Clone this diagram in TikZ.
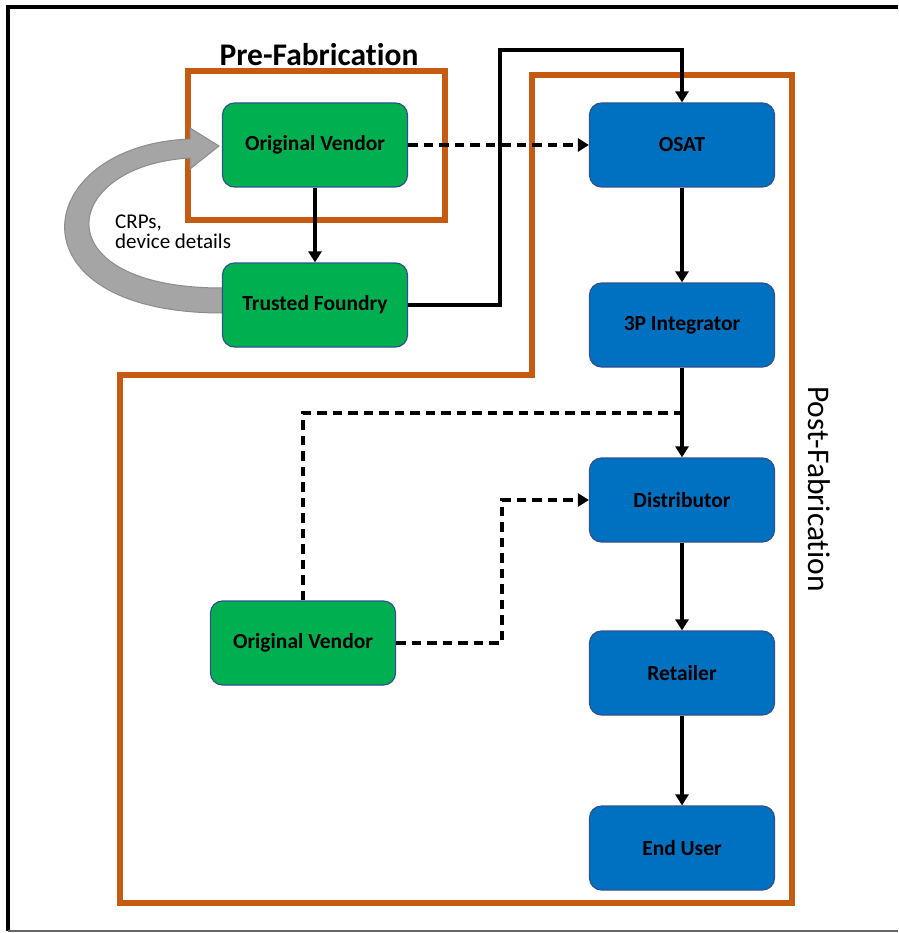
\documentclass[tikz,border=0pt]{standalone}
\usepackage{fontspec}
\setmainfont{Carlito}[Ligatures=NoCommon]
\usetikzlibrary{arrows.meta}

\definecolor{vgreen}{HTML}{00B050}
\definecolor{vblue}{HTML}{0070C0}
\definecolor{rust}{HTML}{C55A11}
\definecolor{boxedge}{HTML}{2F528F}
\definecolor{loopfill}{HTML}{A5A5A5}
\definecolor{loopedge}{HTML}{8C8C8C}

\tikzset{
  box/.style={rounded corners=12pt, minimum width=185pt, minimum height=84pt,
    draw=boxedge, line width=1.2pt, text=black,
    font=\fontsize{21.5}{24}\selectfont\bfseries},
  gbox/.style={box, fill=vgreen},
  bbox/.style={box, fill=vblue},
  flow/.style={line width=3.6pt, -{Triangle[length=11pt,width=13pt]}},
  dline/.style={line width=3.6pt, dash pattern=on 9.5pt off 6pt},
  dflow/.style={flow, dash pattern=on 9.5pt off 6pt},
  frame/.style={draw=rust, line width=6pt, line join=miter},
}

\begin{document}
\begin{tikzpicture}[x=1pt, y=-1pt]
  \useasboundingbox (0,0) rectangle (898,933);

  % outer border (open on the right)
  \draw[line width=3.5pt] (898,7) -- (8,7) -- (8,931);
  \draw[line width=1.5pt, black!60] (8,931) -- (898,931);

  % phase frames
  \draw[frame] (188,71) rectangle (445,220);
  \draw[frame] (532,75) -- (792,75) -- (792,903) -- (120,903)
               -- (120,375) -- (532,375) -- cycle;

  \node[font=\fontsize{31.5}{36}\selectfont\bfseries, anchor=base, inner sep=0pt]
    (pretitle) at (319,66) {Pre-Fabrication};
  \node[font=\fontsize{31.5}{36}\selectfont, rotate=-90, anchor=base, inner sep=0pt]
    (posttitle) at (808,489) {Post-Fabrication};

  % feedback loop from the foundry back to the vendor
  \filldraw[fill=loopfill, draw=loopedge, line width=1pt]
    (222,288) .. controls (40,288) and (60,165) .. (190,158)
    -- (190,169) -- (219,146) -- (190,128) -- (190,139)
    .. controls (30,145) and (5,313) .. (222,313) -- cycle;
  \node[anchor=north west, align=left, inner sep=0pt,
        font=\fontsize{21}{19.5}\selectfont] (crp) at (115,215)
    {CRPs,\\device details};

  % entities
  \node[gbox] (ov1)  at (315,145) {Original Vendor};
  \node[gbox] (tf)   at (315,305) {Trusted Foundry};
  \node[bbox] (osat) at (682,145) {OSAT};
  \node[bbox] (tpi)  at (682,325) {3P Integrator};
  \node[bbox] (dist) at (682,500) {Distributor};
  \node[bbox] (ret)  at (682,673) {Retailer};
  \node[bbox] (eu)   at (682,848) {End User};
  \node[gbox] (ov2)  at (303,643) {Original Vendor};

  \coordinate (tfup)  at (500,50);
  \coordinate (merge) at (682,413);
  \coordinate (bend)  at (502,500);

  % connectors
  \draw[dflow] (ov1) -- (osat);
  \draw[flow] (ov1) -- (tf);
  \draw[flow] (tf.east) -| (tfup) -| (osat.north);
  \draw[flow] (osat) -- (tpi);
  \draw[flow] (tpi) -- (dist);
  \draw[flow] (dist) -- (ret);
  \draw[flow] (ret) -- (eu);
  \draw[dline] (ov2.north) |- (merge);
  \draw[dflow] (ov2.east) -| (bend) -- (dist.west);
\end{tikzpicture}
\end{document}
